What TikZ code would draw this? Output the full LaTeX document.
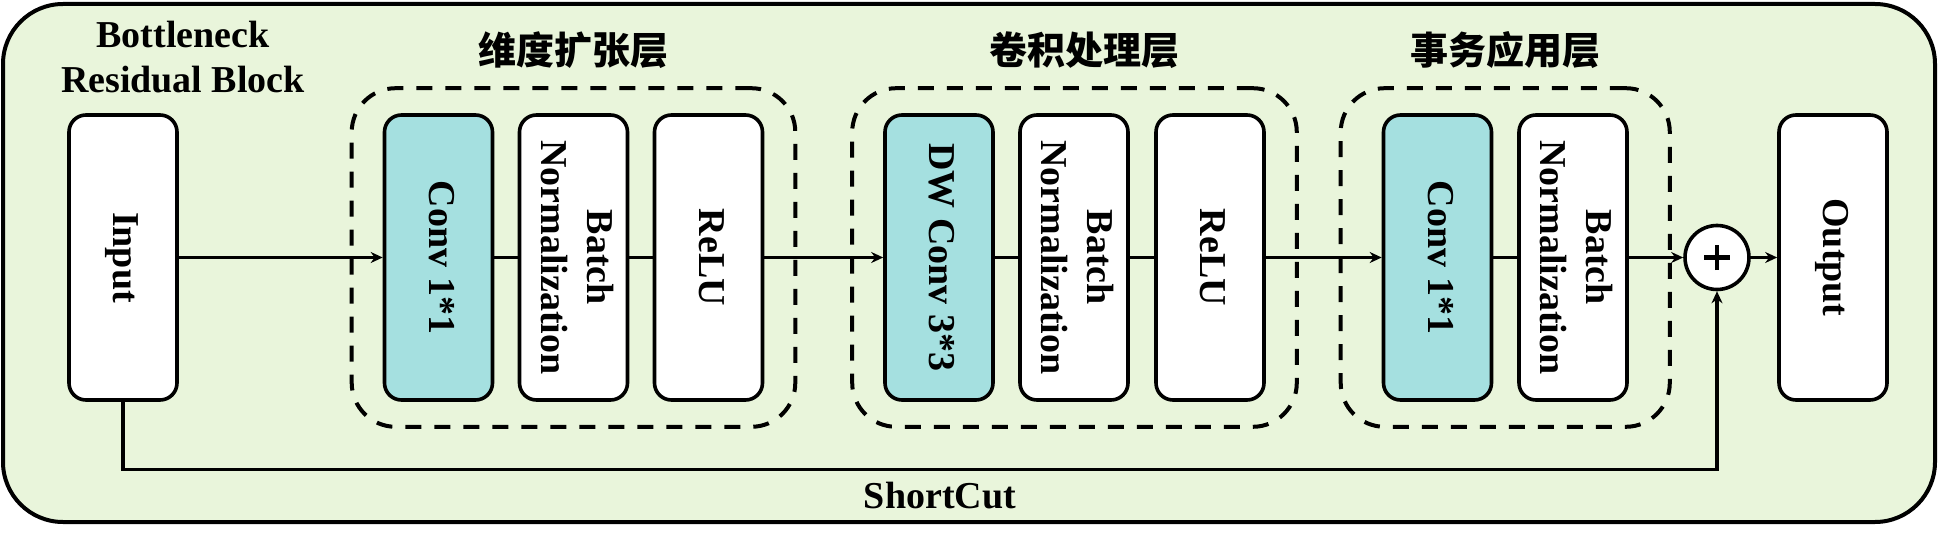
\documentclass[tikz,border=0pt]{standalone}
\usepackage{fontspec}
\usepackage{graphicx}
\setmainfont{Liberation Serif}
\newfontfamily\cjk{Noto Sans CJK SC}
\usetikzlibrary{arrows.meta,fit}
\definecolor{bggreen}{RGB}{233,245,219}
\definecolor{convteal}{RGB}{165,224,224}
\newcommand{\vlab}[1]{\rotatebox{-90}{\begin{tabular}{@{}c@{}}#1\end{tabular}}}

\begin{document}
\begin{tikzpicture}[x=0.5pt,y=-0.5pt]
                \tikzstyle{blk}=[draw, fill=white, rounded corners=8.5pt, line width=1.8pt, minimum width=54pt, minimum height=142.5pt, inner sep=0pt, font=\fontsize{19}{23}\selectfont\bfseries]
                \tikzstyle{conv}=[blk, fill=convteal]
                \tikzstyle{grp}=[draw, dash pattern=on 8pt off 6.5pt, line width=2pt, rounded corners=22pt, inner ysep=12.5pt]
                \tikzstyle{arr}=[line width=1.6pt, -{Stealth[length=6pt,width=5.5pt]}]
                \tikzstyle{lnk}=[line width=1.6pt]
                \tikzstyle{ttl}=[font=\cjk\fontsize{19}{23}\selectfont\bfseries]
                \tikzstyle{txt}=[font=\fontsize{19}{22.5}\selectfont\bfseries, align=center]

                \useasboundingbox (0,0) rectangle (1940,540);
                \draw[line width=2pt, fill=bggreen, rounded corners=30pt] (3,4) rectangle (1935,522);

                \node[txt] (hd) at (183,57) {Bottleneck\\Residual Block};

                \node[blk]  (in) at (123,257.5) {\vlab{Input}};
                \node[conv] (c1) at (438.5,257.5) {\vlab{Conv 1*1}};
                \node[blk]  (b1) at (573.5,257.5) {\vlab{Batch\\Normalization}};
                \node[blk]  (r1) at (708.5,257.5) {\vlab{ReLU}};
                \node[conv] (c2) at (939,257.5) {\vlab{DW Conv 3*3}};
                \node[blk]  (b2) at (1074,257.5) {\vlab{Batch\\Normalization}};
                \node[blk]  (r2) at (1210,257.5) {\vlab{ReLU}};
                \node[conv] (c3) at (1437.5,257.5) {\vlab{Conv 1*1}};
                \node[blk]  (b3) at (1573,257.5) {\vlab{Batch\\Normalization}};
                \node[draw, circle, fill=white, line width=1.8pt, minimum size=32pt, inner sep=0pt,
                      path picture={\draw[line width=2.2pt] ([xshift=-6.3pt]path picture bounding box.center) -- ([xshift=6.3pt]path picture bounding box.center);
                                    \draw[line width=2.2pt] ([yshift=-6.3pt]path picture bounding box.center) -- ([yshift=6.3pt]path picture bounding box.center);}] (add) at (1717,257.5) {};
                \node[blk]  (out) at (1833,257.5) {\vlab{Output}};

                \node[grp, fit=(c1)(r1), inner xsep=15.5pt] (g1) {};
                \node[grp, fit=(c2)(r2), inner xsep=15.5pt] (g2) {};
                \node[grp, fit=(c3)(b3), inner xsep=20.5pt] (g3) {};

                \node[ttl] (t1) at ([yshift=18pt]g1.north) {维度扩张层};
                \node[ttl] (t2) at ([xshift=5pt,yshift=18pt]g2.north) {卷积处理层};
                \node[ttl] (t3) at ([yshift=18pt]g3.north) {事务应用层};

                \draw[arr] (in) -- (c1);
                \draw[lnk] (c1) -- (b1);
                \draw[lnk] (b1) -- (r1);
                \draw[arr] (r1) -- (c2);
                \draw[lnk] (c2) -- (b2);
                \draw[lnk] (b2) -- (r2);
                \draw[arr] (r2) -- (c3);
                \draw[lnk] (c3) -- (b3);
                \draw[arr] (b3) -- (add);
                \draw[arr] (add) -- (out);
                \draw[arr] (in.south) -- ++(0,68) -| (add.south);

                \node[txt] (sc) at (940,496) {ShortCut};
            \end{tikzpicture}
\end{document}
